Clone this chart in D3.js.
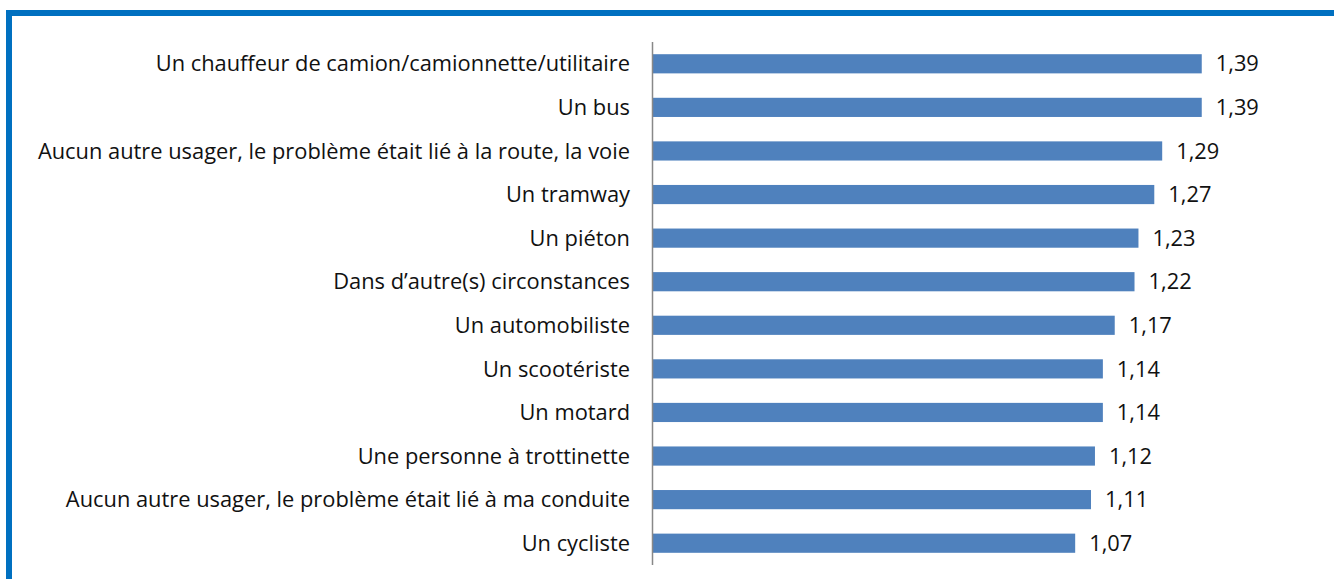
<!DOCTYPE html>
<html>
<head>
<meta charset="utf-8">
<script src="https://cdn.jsdelivr.net/npm/d3@7"></script>
<style>
  body { margin: 0; background: #fff; }
  svg text { font-family: "Open Sans", sans-serif; fill: #111; }
</style>
</head>
<body>
<svg id="chart" width="1334" height="579"></svg>
<script>
// Catégories (de haut en bas) et valeurs
const categories = [
  "Un chauffeur de camion/camionnette/utilitaire",
  "Un bus",
  "Aucun autre usager, le problème était lié à la route, la voie",
  "Un tramway",
  "Un piéton",
  "Dans d’autre(s) circonstances",
  "Un automobiliste",
  "Un scootériste",
  "Un motard",
  "Une personne à trottinette",
  "Aucun autre usager, le problème était lié à ma conduite",
  "Un cycliste"
];
const values = [1.39, 1.39, 1.29, 1.27, 1.23, 1.22, 1.17, 1.14, 1.14, 1.12, 1.11, 1.07];

const svg = d3.select("#chart");

// Cadre bleu (haut et gauche)
svg.append("rect").attr("x", 6).attr("y", 10).attr("width", 1328).attr("height", 6).attr("fill", "#0070C0");
svg.append("rect").attr("x", 6).attr("y", 10).attr("width", 6).attr("height", 569).attr("fill", "#0070C0");

const x0 = 652;
const xScale = d3.scaleLinear().domain([0, 1]).range([x0, x0 + 395.5]);

const yScale = d3.scaleBand()
  .domain(categories)
  .range([42, 565])
  .paddingInner(0.56)
  .paddingOuter(0.28);

const fmt = d => d.toFixed(2).replace(".", ",");
const fontSize = "21.85px";

// Barres
svg.append("g")
  .selectAll("rect")
  .data(values)
  .join("rect")
  .attr("x", xScale(0))
  .attr("y", (d, i) => yScale(categories[i]))
  .attr("width", d => xScale(d) - xScale(0))
  .attr("height", yScale.bandwidth())
  .attr("fill", "#4F81BD");

// Axe vertical
svg.append("line")
  .attr("x1", x0 + 0.5).attr("x2", x0 + 0.5)
  .attr("y1", 42).attr("y2", 565)
  .attr("stroke", "#888").attr("stroke-width", 1.5);

// Libellés des catégories
svg.append("g")
  .selectAll("text")
  .data(categories)
  .join("text")
  .attr("x", 630)
  .attr("y", d => yScale(d) + yScale.bandwidth() / 2)
  .attr("dy", "0.35em")
  .attr("text-anchor", "end")
  .style("font-size", fontSize)
  .text(d => d);

// Valeurs
svg.append("g")
  .selectAll("text")
  .data(values)
  .join("text")
  .attr("x", d => xScale(d) + 14)
  .attr("y", (d, i) => yScale(categories[i]) + yScale.bandwidth() / 2)
  .attr("dy", "0.35em")
  .style("font-size", fontSize)
  .text(d => fmt(d));
</script>
</body>
</html>
